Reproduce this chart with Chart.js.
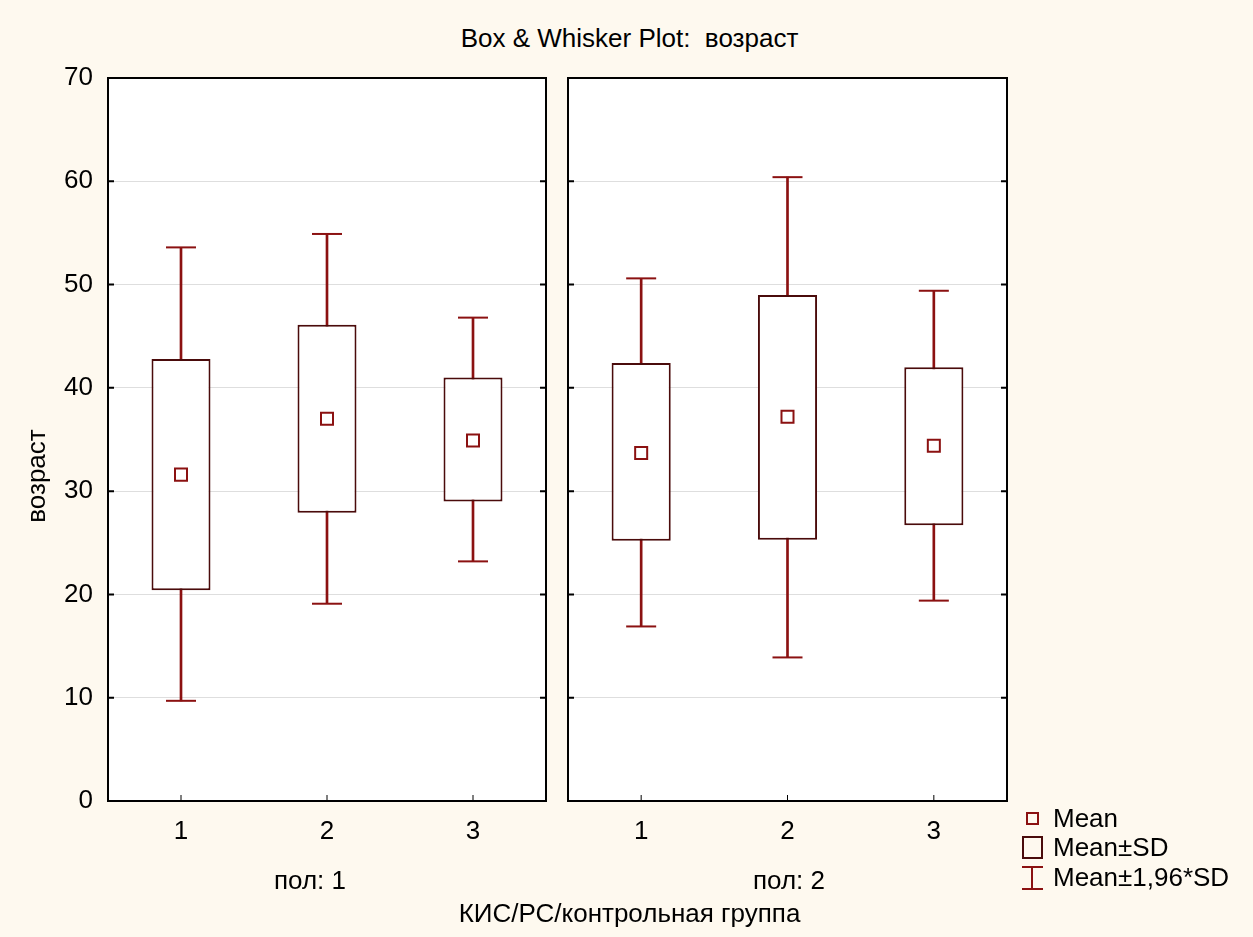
<!DOCTYPE html>
<html>
<head>
<meta charset="utf-8">
<script src="https://cdn.jsdelivr.net/npm/chart.js@4.4.0/dist/chart.umd.min.js"></script>
<style>
  body { margin: 0; background: #fef9ef; width: 1253px; height: 937px; position: relative; overflow: hidden;
         font-family: "Liberation Sans", Arial, sans-serif; }
  canvas { position: absolute; top: 0; }
  #left { left: 0; }
  #right { left: 556px; }
  .txt { position: absolute; font-size: 26px; line-height: 30px; color: #000; white-space: nowrap; }
  .mk { position: absolute; box-sizing: border-box; }
</style>
</head>
<body>
<div class="txt" id="title" style="top:23px;left:0;width:1259px;text-align:center">Box &amp; Whisker Plot:&nbsp; возраст</div>
<canvas id="left" width="560" height="937"></canvas>
<canvas id="right" width="697" height="937"></canvas>
<div class="txt" style="top:461px;left:-64px;width:200px;text-align:center;transform:rotate(-90deg)">возраст</div>
<div class="txt" style="top:865px;left:210px;width:200px;text-align:center">пол: 1</div>
<div class="txt" style="top:865px;left:689px;width:200px;text-align:center">пол: 2</div>
<div class="txt" style="top:898px;left:0;width:1259px;text-align:center">КИС/РС/контрольная группа</div>

<!-- legend -->
<div class="mk" style="left:1026px;top:812px;width:13px;height:13px;border:2px solid #8b1111"></div>
<div class="txt" style="left:1053px;top:803px">Mean</div>
<div class="mk" style="left:1022px;top:836px;width:21px;height:23px;border:2px solid #4a0b0b"></div>
<div class="txt" style="left:1053px;top:832px">Mean±SD</div>
<div class="mk" style="left:1022px;top:866px;width:21px;height:2px;background:#8b1111"></div>
<div class="mk" style="left:1031px;top:866px;width:2px;height:24px;background:#8b1111"></div>
<div class="mk" style="left:1022px;top:888px;width:21px;height:2px;background:#8b1111"></div>
<div class="txt" style="left:1053px;top:862px">Mean±1,96*SD</div>

<script>
// группы (КИС / РС / контрольная)
const groups = ["1", "2", "3"];

// пол: 1
const sex1Low = [9.7, 19.1, 23.2];     // mean - 1.96*SD
const sex1SdLow = [20.4, 27.9, 29.0];  // mean - SD
const sex1Mean = [31.6, 37.0, 34.9];
const sex1SdHigh = [42.8, 46.1, 41.0]; // mean + SD
const sex1High = [53.6, 54.9, 46.8];   // mean + 1.96*SD

// пол: 2
const sex2Low = [16.9, 13.9, 19.4];
const sex2SdLow = [25.2, 25.3, 26.7];
const sex2Mean = [33.7, 37.2, 34.4];
const sex2SdHigh = [42.4, 49.0, 42.0];
const sex2High = [50.6, 60.4, 49.4];

const yTicks = [0, 10, 20, 30, 40, 50, 60, 70];

const WHISKER = "#8b1111";
const BOX = "#4a0b0b";

Chart.defaults.font.family = '"Liberation Sans", Arial, sans-serif';
Chart.defaults.font.size = 26;
Chart.defaults.color = "#000";

// white plot area, black frame and inward tick marks
const panelFrame = {
  id: "panelFrame",
  beforeDraw(chart) {
    const { ctx, chartArea: a } = chart;
    ctx.save();
    ctx.fillStyle = "#fff";
    ctx.fillRect(a.left, a.top, a.width, a.height);
    ctx.restore();
  },
  afterDraw(chart) {
    const { ctx, chartArea: a, scales } = chart;
    ctx.save();
    ctx.strokeStyle = "#000";
    ctx.lineWidth = 2;
    ctx.beginPath();
    scales.y.ticks.forEach((t) => {
      const py = scales.y.getPixelForValue(t.value);
      ctx.moveTo(a.left, py);
      ctx.lineTo(a.left + 6, py);
      ctx.moveTo(a.right, py);
      ctx.lineTo(a.right - 6, py);
    });
    ctx.stroke();
    ctx.lineWidth = 1;
    ctx.beginPath();
    scales.x.ticks.forEach((t, i) => {
      const px = scales.x.getPixelForTick(i);
      ctx.moveTo(px, a.bottom);
      ctx.lineTo(px, a.bottom - 6);
    });
    ctx.stroke();
    ctx.lineWidth = 2;
    ctx.strokeRect(a.left, a.top, a.width, a.height);
    ctx.restore();
  },
};

function makePanel(id, low, sdLow, mean, sdHigh, high, showY, padding) {
  return new Chart(document.getElementById(id), {
    type: "bar",
    data: {
      labels: groups,
      datasets: [
        {
          type: "line",
          label: "Mean",
          data: mean,
          showLine: false,
          pointStyle: "rect",
          pointRadius: 8.5,
          pointBorderWidth: 2,
          pointBorderColor: WHISKER,
          pointBackgroundColor: "#fff",
          order: 0,
        },
        {
          type: "line",
          label: "cap low",
          data: low,
          showLine: false,
          pointStyle: "line",
          pointRadius: 15,
          pointBorderWidth: 2,
          pointBorderColor: WHISKER,
          order: 1,
        },
        {
          type: "line",
          label: "cap high",
          data: high,
          showLine: false,
          pointStyle: "line",
          pointRadius: 15,
          pointBorderWidth: 2,
          pointBorderColor: WHISKER,
          order: 1,
        },
        {
          label: "Mean±SD",
          data: groups.map((g, i) => [sdLow[i], sdHigh[i]]),
          backgroundColor: "#fff",
          borderColor: BOX,
          borderWidth: 2,
          borderSkipped: false,
          grouped: false,
          barPercentage: 0.404,
          categoryPercentage: 1,
          order: 2,
        },
        {
          label: "Mean±1,96*SD",
          data: groups.map((g, i) => [low[i], high[i]]),
          backgroundColor: WHISKER,
          borderWidth: 0,
          grouped: false,
          barThickness: 2,
          order: 3,
        },
      ],
    },
    options: {
      responsive: false,
      animation: false,
      events: [],
      layout: { padding: padding, autoPadding: false },
      plugins: { legend: { display: false }, tooltip: { enabled: false } },
      scales: {
        x: {
          grid: { display: false },
          border: { display: false },
          ticks: { padding: 7 },
          afterFit: (s) => { s.height = 100; s.paddingLeft = 0; s.paddingRight = 0; },
        },
        y: {
          min: 0,
          max: 70,
          afterBuildTicks: (s) => { s.ticks = yTicks.map((v) => ({ value: v })); },
          grid: { color: "#dedede", lineWidth: 1, drawTicks: false },
          border: { display: false },
          ticks: { display: showY, padding: 15 },
          afterFit: (s) => { s.width = showY ? 108 : 0; },
        },
      },
    },
    plugins: [panelFrame],
  });
}

makePanel("left", sex1Low, sex1SdLow, sex1Mean, sex1SdHigh, sex1High, true,
  { top: 78, bottom: 36, left: 0, right: 14 });
makePanel("right", sex2Low, sex2SdLow, sex2Mean, sex2SdHigh, sex2High, false,
  { top: 78, bottom: 36, left: 12, right: 246 });
</script>
</body>
</html>
